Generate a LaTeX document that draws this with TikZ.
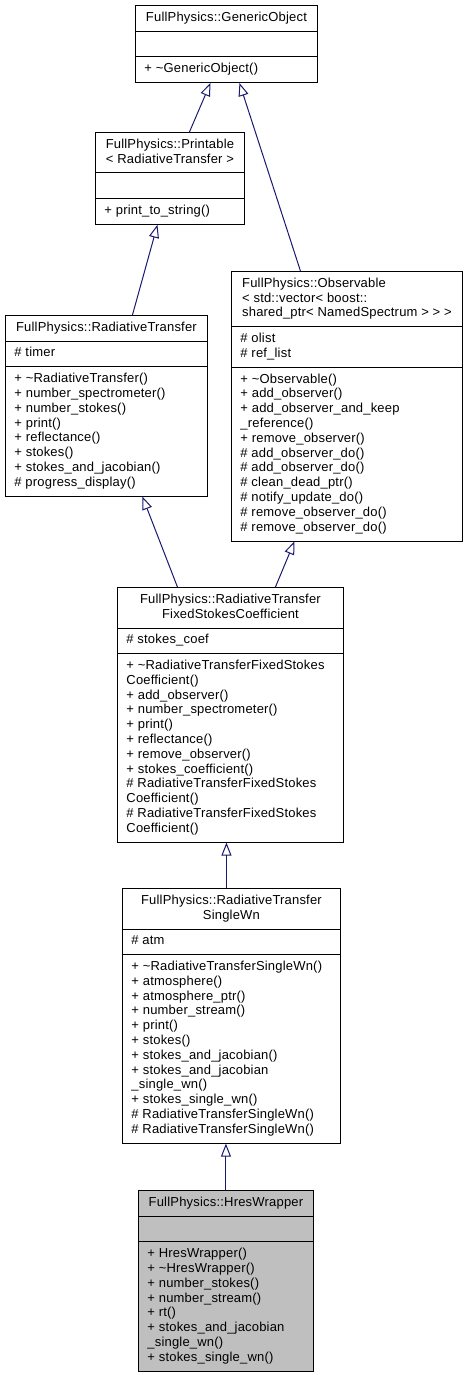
\documentclass[tikz,border=0pt]{standalone}
\usepackage{fontspec}
\setmainfont[LetterSpace=1.5]{Liberation Sans}
\usetikzlibrary{shapes.multipart,arrows.meta}

\definecolor{edgeblue}{HTML}{191970}
\definecolor{leafgray}{HTML}{BFBFBF}

\newcommand{\tld}{\textasciitilde}
\newcommand{\ctitle}[1]{\begin{tabular}{@{}c@{}}#1\end{tabular}}

\begin{document}
\begin{tikzpicture}[
    x=1pt, y=-1pt,
    classbox/.style={draw, line width=0.9pt, rectangle split, rectangle split parts=3,
      rectangle split part align={center,left,left}, align=left,
      inner xsep=9pt, inner ysep=5pt, minimum width=#1, anchor=north west,
      font=\fontsize{13}{14.8}\selectfont},
    inherit/.style={edgeblue, line width=1pt, -{Triangle[open,length=13pt,width=10pt]}}
  ]

  \useasboundingbox (0,0) rectangle (466,1375);

  \node[classbox=182pt] (generic) at (135,5)
    {\strut FullPhysics::GenericObject
     \nodepart{second}\strut
     \nodepart{third}\strut + \tld GenericObject()};

  \node[classbox=149pt] (printable) at (95,132)
    {\ctitle{FullPhysics::Printable\\< RadiativeTransfer >}
     \nodepart{second}\strut
     \nodepart{third}\strut + print\_to\_string()};

  \node[classbox=202pt] (rt) at (5,315)
    {\strut FullPhysics::RadiativeTransfer
     \nodepart{second}\strut \# timer
     \nodepart{third}\strut + \tld RadiativeTransfer()\\
      + number\_spectrometer()\\
      + number\_stokes()\\
      + print()\\
      + reflectance()\\
      + stokes()\\
      + stokes\_and\_jacobian()\\
      \# progress\_display()\strut};

  \node[classbox=231pt] (observable) at (231,271)
    {\strut FullPhysics::Observable\\
      < std::vector< boost::\\
      shared\_ptr< NamedSpectrum > > >\strut
     \nodepart{second}\strut \# olist\\
      \# ref\_list\strut
     \nodepart{third}\strut + \tld Observable()\\
      + add\_observer()\\
      + add\_observer\_and\_keep\\
      \_reference()\\
      + remove\_observer()\\
      \# add\_observer\_do()\\
      \# add\_observer\_do()\\
      \# clean\_dead\_ptr()\\
      \# notify\_update\_do()\\
      \# remove\_observer\_do()\\
      \# remove\_observer\_do()\strut};

  \node[classbox=226pt] (fsc) at (117,587)
    {\ctitle{FullPhysics::RadiativeTransfer\\FixedStokesCoefficient}
     \nodepart{second}\strut \# stokes\_coef
     \nodepart{third}\strut + \tld RadiativeTransferFixedStokes\\
      Coefficient()\\
      + add\_observer()\\
      + number\_spectrometer()\\
      + print()\\
      + reflectance()\\
      + remove\_observer()\\
      + stokes\_coefficient()\\
      \# RadiativeTransferFixedStokes\\
      Coefficient()\\
      \# RadiativeTransferFixedStokes\\
      Coefficient()\strut};

  \node[classbox=218pt] (singlewn) at (122,888)
    {\ctitle{FullPhysics::RadiativeTransfer\\SingleWn}
     \nodepart{second}\strut \# atm
     \nodepart{third}\strut + \tld RadiativeTransferSingleWn()\\
      + atmosphere()\\
      + atmosphere\_ptr()\\
      + number\_stream()\\
      + print()\\
      + stokes()\\
      + stokes\_and\_jacobian()\\
      + stokes\_and\_jacobian\\
      \_single\_wn()\\
      + stokes\_single\_wn()\\
      \# RadiativeTransferSingleWn()\\
      \# RadiativeTransferSingleWn()\strut};

  \node[classbox=175pt, fill=leafgray] (hres) at (138,1190)
    {\strut FullPhysics::HresWrapper
     \nodepart{second}\strut
     \nodepart{third}\strut + HresWrapper()\\
      + \tld HresWrapper()\\
      + number\_stokes()\\
      + number\_stream()\\
      + rt()\\
      + stokes\_and\_jacobian\\
      \_single\_wn()\\
      + stokes\_single\_wn()\strut};

  \coordinate (swtop) at ([xshift=-5pt]singlewn.north);

  \draw[inherit] ([xshift=19.5pt]printable.north) -- ([xshift=-16pt]generic.south);
  \draw[inherit] ([xshift=-46.5pt]observable.north) -- ([xshift=13pt]generic.south);
  \draw[inherit] ([xshift=26pt]rt.north) -- ([xshift=-12.5pt]printable.south);
  \draw[inherit] ([xshift=-53pt]fsc.north) -- ([xshift=36pt]rt.south);
  \draw[inherit] ([xshift=45pt]fsc.north) -- ([xshift=-52.5pt]observable.south);
  \draw[inherit] (swtop) -- (swtop |- fsc.south);
  \draw[inherit] (hres.north) -- (hres.north |- singlewn.south);

\end{tikzpicture}
\end{document}
